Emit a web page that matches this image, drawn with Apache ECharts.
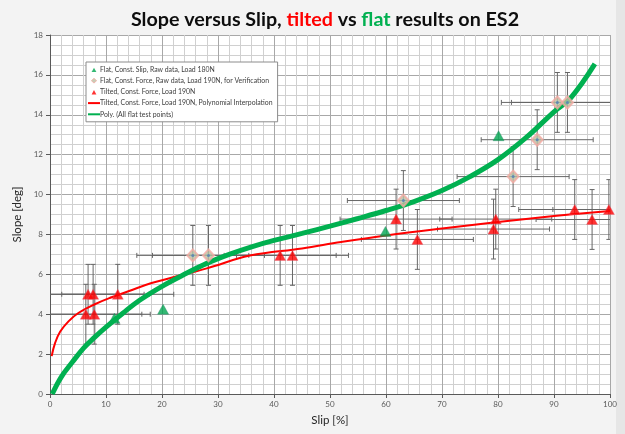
<!DOCTYPE html>
<html>
<head>
<meta charset="utf-8">
<title>Slope versus Slip</title>
<script src="https://cdn.jsdelivr.net/npm/echarts@6/dist/echarts.min.js"></script>
<style>
  html, body { margin: 0; padding: 0; background: #f3f3f3; }
  #chart { width: 625px; height: 434px; }
</style>
</head>
<body>
<div id="chart"></div>
<script>
// Flat surface, constant slip, raw data (180 N)
const flatSlipX = [11.5, 20.2, 59.9, 80.1];
const flatSlipY = [3.8, 4.25, 8.15, 12.95];

// Flat surface, constant force, raw data (190 N), verification runs
const flatForceX = [25.5, 28.3, 63.1, 82.7, 87.0, 90.6, 92.4];
const flatForceY = [6.95, 6.95, 9.7, 10.9, 12.75, 14.62, 14.62];

// Tilted surface, constant force (190 N)
const tiltedX = [6.4, 6.8, 7.7, 7.9, 12.1, 41.1, 43.3, 61.8, 65.6, 79.2, 79.6, 93.7, 96.8, 99.8];
const tiltedY = [4.0, 5.0, 5.0, 4.0, 5.0, 6.95, 6.95, 8.77, 7.75, 8.27, 8.77, 9.25, 8.75, 9.25];

// Measurement uncertainty drawn as error bars
const slipErr = 10;    // [%]
const slopeErr = 1.5;  // [deg]

// Polynomial interpolation of the tilted results
const tiltedFitX = [0.3, 0.9, 1.8, 3.3, 5, 8, 11, 14, 18, 22, 28, 35.7, 45, 52, 60, 70, 80, 90, 100];
const tiltedFitY = [1.9, 2.55, 3.12, 3.64, 4.05, 4.5, 4.85, 5.15, 5.55, 5.85, 6.3, 6.94, 7.3, 7.62, 7.95, 8.3, 8.62, 8.92, 9.18];

// Polynomial trend through all flat test points
const flatFitX = [0.4, 2, 4, 6, 8, 10, 13, 16, 20, 24, 28, 32, 36, 40, 45, 50, 55, 60, 65, 70, 75, 80, 85, 90, 93, 97.3];
const flatFitY = [0, 0.85, 1.6, 2.3, 2.85, 3.35, 4.05, 4.7, 5.4, 6.0, 6.55, 7.0, 7.38, 7.7, 8.05, 8.42, 8.8, 9.2, 9.65, 10.2, 10.9, 11.75, 12.85, 14.15, 14.85, 16.55];

// Axis ranges and label steps
const slipRange = [0, 100], slipStep = 10;
const slopeRange = [0, 18], slopeStep = 2;

const names = {
  flatSlip: 'Flat, Const. Slip, Raw data, Load 180N',
  flatForce: 'Flat, Const. Force, Raw data, Load 190N, for Verification',
  tilted: 'Tilted, Const. Force, Load 190N',
  tiltedFit: 'Tilted, Const. Force, Load 190N, Polynomial Interpolation',
  flatFit: 'Poly. (All flat test points)'
};

const zip = (xs, ys) => xs.map((x, i) => [x, ys[i]]);
const FONT = 'Lato, "Noto Sans", sans-serif';

// Small legend glyphs: the leading moves pin the bounding box to the 12x6 icon cell
const legendTriangle = 'path://M0,0M12,6M3.6,5.6L6,1.2L8.4,5.6Z';
const legendDiamond = 'path://M0,0M12,6M6,0.6L8.6,3L6,5.4L3.4,3Z';

function errorBars(xs, ys, id) {
  return {
    type: 'custom',
    id: id,
    name: id,
    data: zip(xs, ys),
    clip: true,
    silent: true,
    z: 1,
    renderItem: function (params, api) {
      const x = api.value(0), y = api.value(1);
      const l = api.coord([x - slipErr, y]);
      const r = api.coord([x + slipErr, y]);
      const b = api.coord([x, y - slopeErr]);
      const t = api.coord([x, y + slopeErr]);
      const cap = 2.5;
      const style = { stroke: '#666666', lineWidth: 1 };
      const seg = (x1, y1, x2, y2) => ({ type: 'line', shape: { x1, y1, x2, y2 }, style });
      return {
        type: 'group',
        children: [
          seg(l[0], l[1], r[0], r[1]),
          seg(l[0], l[1] - cap, l[0], l[1] + cap),
          seg(r[0], r[1] - cap, r[0], r[1] + cap),
          seg(b[0], b[1], t[0], t[1]),
          seg(b[0] - cap, b[1], b[0] + cap, b[1]),
          seg(t[0] - cap, t[1], t[0] + cap, t[1])
        ]
      };
    }
  };
}

const chart = echarts.init(document.getElementById('chart'), null, { renderer: 'canvas' });

const hiddenMarker = { opacity: 0 };

chart.setOption({
  backgroundColor: '#f3f3f3',
  animation: false,
  textStyle: { fontFamily: FONT },
  title: {
    text: '{a|Slope versus Slip, }{r|tilted}{a| vs }{g|flat}{a| results on ES2}',
    left: 320,
    top: 5,
    textAlign: 'center',
    textStyle: {
      rich: {
        a: { fontFamily: FONT, fontSize: 19.7, fontWeight: 'bold', color: '#0d0d0d' },
        r: { fontFamily: FONT, fontSize: 19.7, fontWeight: 'bold', color: '#ff0000' },
        g: { fontFamily: FONT, fontSize: 19.7, fontWeight: 'bold', color: '#00b050' }
      }
    }
  },
  graphic: [
    { type: 'rect', right: 0, top: 0, shape: { width: 9, height: 434 }, style: { fill: '#e6e6e6' }, z: -1 }
  ],
  legend: {
    orient: 'vertical',
    left: 86,
    top: 62,
    backgroundColor: '#ffffff',
    borderColor: '#8c8c8c',
    borderWidth: 1,
    padding: [4, 5, 4, 1],
    itemGap: 4.2,
    itemWidth: 12,
    itemHeight: 6,
    textStyle: { fontFamily: FONT, fontSize: 6.9, color: '#404040', padding: [0, 0, 0, -5] },
    data: [
      { name: names.flatSlip, icon: legendTriangle, itemStyle: { borderWidth: 0 } },
      { name: names.flatForce, icon: legendDiamond, itemStyle: { borderWidth: 1 } },
      { name: names.tilted, icon: legendTriangle, itemStyle: { borderWidth: 0 } },
      { name: names.tiltedFit, itemStyle: hiddenMarker },
      { name: names.flatFit, itemStyle: hiddenMarker }
    ]
  },
  grid: {
    left: 50,
    right: 15,
    top: 35,
    bottom: 40,
    show: true,
    backgroundColor: '#ffffff',
    borderWidth: 0
  },
  xAxis: {
    type: 'value',
    min: slipRange[0],
    max: slipRange[1],
    interval: slipStep,
    name: 'Slip [%]',
    nameLocation: 'middle',
    nameGap: 20,
    nameTextStyle: { fontFamily: FONT, fontSize: 11.5, color: '#262626' },
    axisLine: { lineStyle: { color: '#595959', width: 1 } },
    axisTick: { show: true, length: 4, inside: false, lineStyle: { color: '#595959' } },
    axisLabel: { fontFamily: FONT, fontSize: 8, color: '#595959', margin: 6 },
    splitLine: { show: true, lineStyle: { color: '#a8a8a8', width: 1 } },
    minorTick: { show: false, splitNumber: 5 },
    minorSplitLine: { show: true, lineStyle: { color: '#d0d0d0', width: 1 } }
  },
  yAxis: {
    type: 'value',
    min: slopeRange[0],
    max: slopeRange[1],
    interval: slopeStep,
    name: 'Slope [deg]',
    nameLocation: 'middle',
    nameGap: 22,
    nameTextStyle: { fontFamily: FONT, fontSize: 11.5, color: '#262626' },
    axisLine: { show: true, lineStyle: { color: '#595959', width: 1 } },
    axisTick: { show: true, length: 4, lineStyle: { color: '#595959' } },
    axisLabel: { fontFamily: FONT, fontSize: 8, color: '#595959', margin: 7 },
    splitLine: { show: true, lineStyle: { color: '#a8a8a8', width: 1 } },
    minorTick: { show: false, splitNumber: 4 },
    minorSplitLine: { show: true, lineStyle: { color: '#d0d0d0', width: 1 } }
  },
  series: [
    errorBars(flatForceX, flatForceY, 'flatForceErr'),
    errorBars(tiltedX, tiltedY, 'tiltedErr'),
    {
      name: names.tiltedFit,
      type: 'line',
      data: zip(tiltedFitX, tiltedFitY),
      smooth: 0.4,
      symbol: 'none',
      lineStyle: { color: '#ff0000', width: 2 },
      itemStyle: { color: '#ff0000' },
      z: 2
    },
    {
      name: names.flatSlip,
      type: 'scatter',
      data: zip(flatSlipX, flatSlipY),
      symbol: 'triangle',
      symbolSize: [11, 10],
      itemStyle: { color: '#00a650', borderColor: '#2e8a6a', borderWidth: 0.5 },
      z: 2
    },
    {
      name: names.flatFit,
      type: 'line',
      data: zip(flatFitX, flatFitY),
      smooth: 0.4,
      symbol: 'none',
      lineStyle: { color: '#00b050', width: 5 },
      itemStyle: { color: '#00b050' },
      z: 3
    },
    {
      name: names.flatForce,
      type: 'scatter',
      data: zip(flatForceX, flatForceY),
      symbol: 'diamond',
      symbolSize: [11, 12],
      itemStyle: { color: '#b9c2a4', borderColor: '#f2aaa2', borderWidth: 2 },
      z: 4
    },
    {
      name: 'flatForceCore',
      type: 'scatter',
      data: zip(flatForceX, flatForceY),
      symbol: 'circle',
      symbolSize: 3,
      itemStyle: { color: '#4f7fb8' },
      silent: true,
      z: 5
    },
    {
      name: names.tilted,
      type: 'scatter',
      data: zip(tiltedX, tiltedY),
      symbol: 'triangle',
      symbolSize: [11, 10],
      itemStyle: { color: '#ff0000', borderColor: '#e06070', borderWidth: 0.5 },
      z: 4
    }
  ]
});
</script>
</body>
</html>
